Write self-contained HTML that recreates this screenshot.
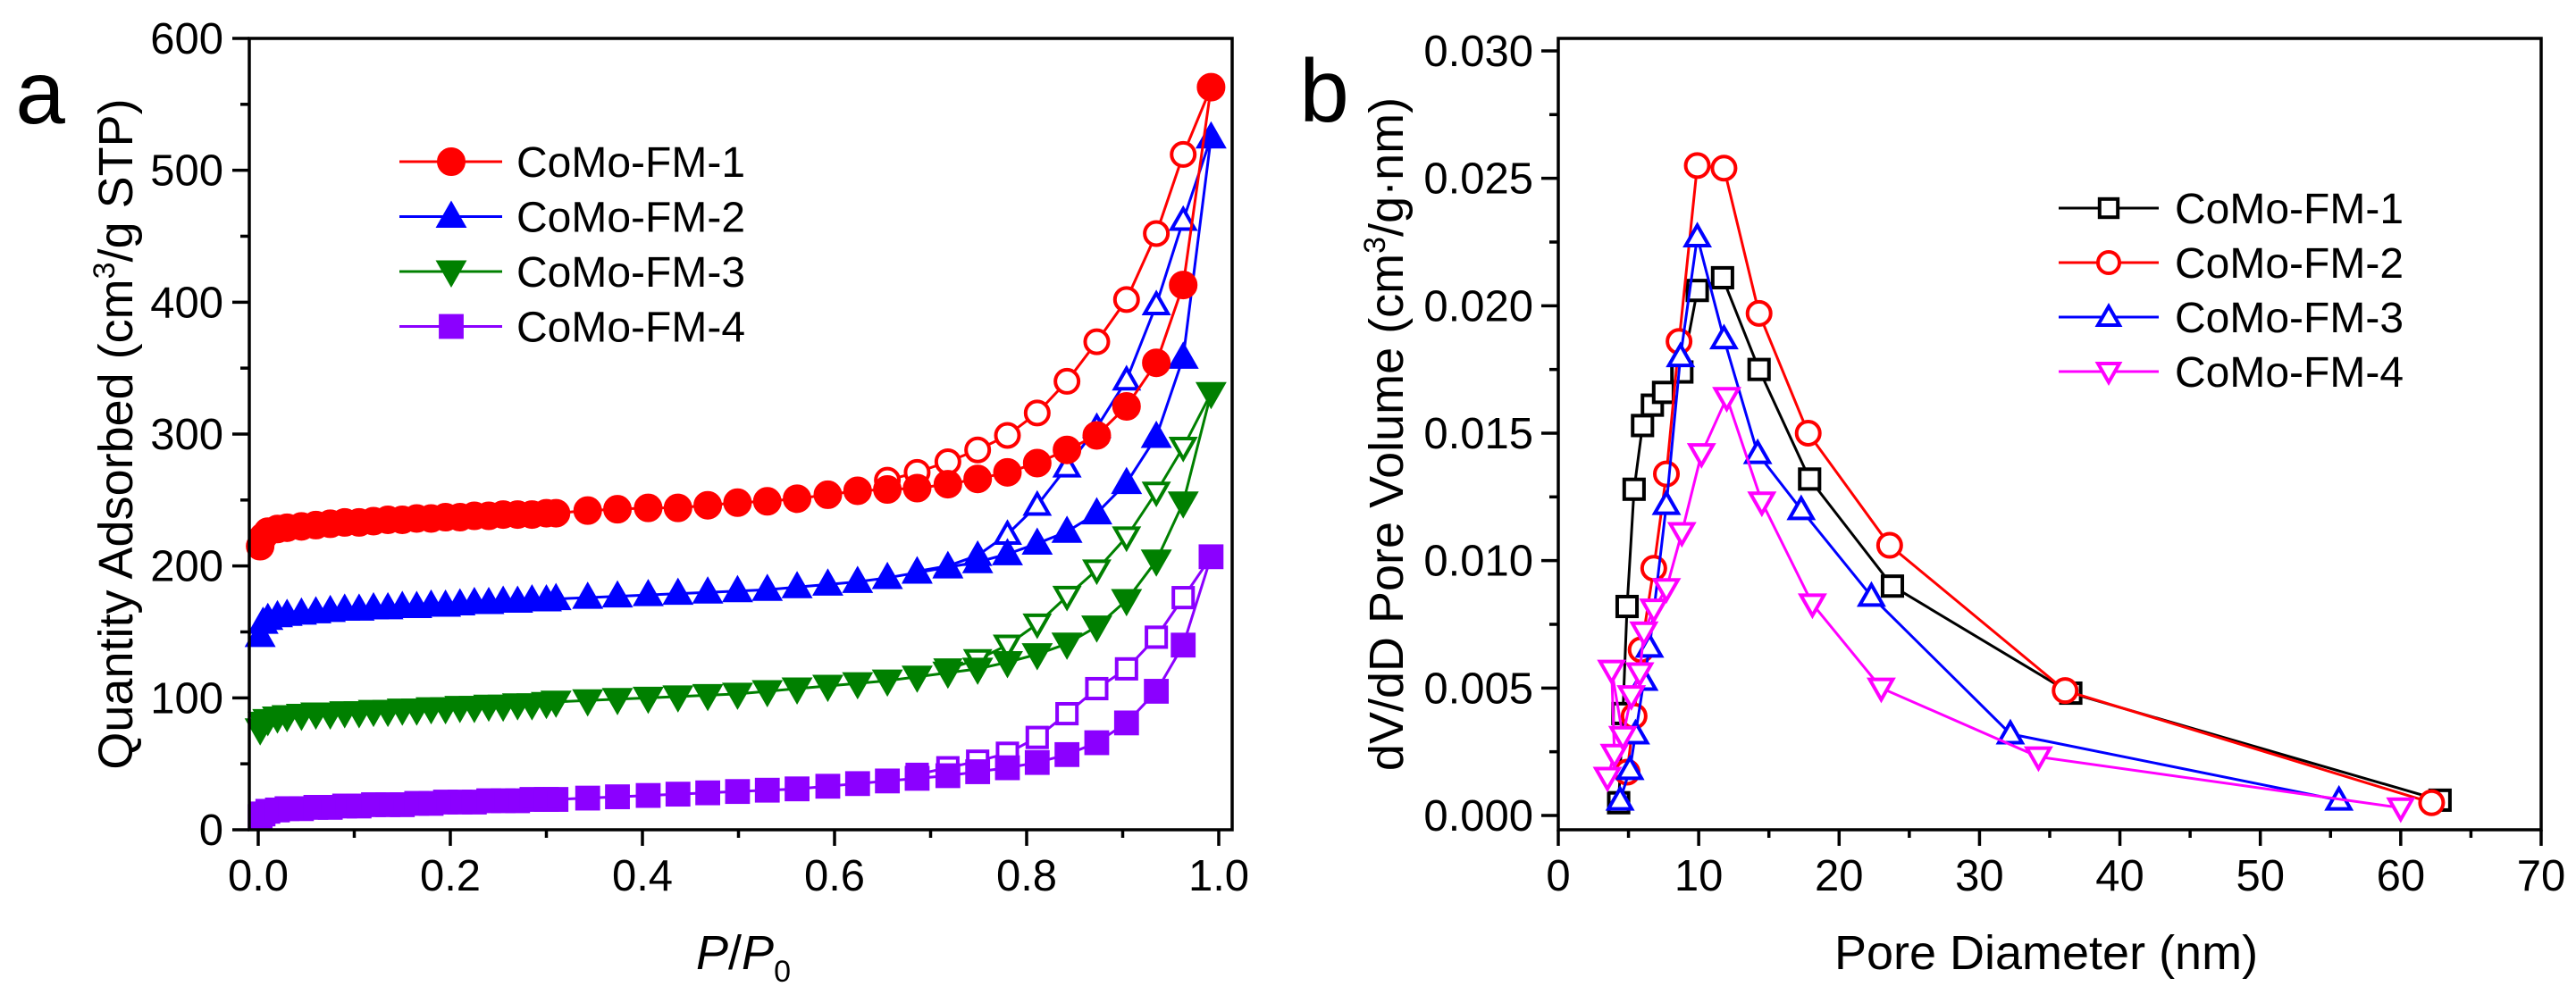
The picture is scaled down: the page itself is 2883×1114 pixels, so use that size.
<!DOCTYPE html>
<html><head><meta charset="utf-8"><style>
html,body{margin:0;padding:0;background:#fff;}
svg{display:block;font-family:"Liberation Sans",Arial,sans-serif;}
</style></head><body>
<svg id="fig" width="2883" height="1114" viewBox="0 0 2883 1114" xmlns="http://www.w3.org/2000/svg">
<g id="pa"></g>
<g id="pb"></g>
</svg>
<script>
// ---------- Panel a data ----------
const lowP = [0.002,0.005,0.01,0.02,0.03,0.045,0.06,0.075,0.09,0.105,0.12,0.135,0.15,0.165,0.18,0.195,0.21,0.225,0.24,0.255,0.27,0.285,0.30,0.31];
const highP = [0.343,0.374,0.406,0.437,0.468,0.499,0.53,0.561,0.593,0.624,0.655,0.686,0.718,0.749,0.78,0.811,0.842,0.873,0.904,0.935,0.963,0.992];
const desP = [0.992,0.963,0.935,0.904,0.873,0.842,0.811,0.78,0.749,0.718,0.686,0.655];
const fm1Ads = [215,222,226,228,229,230,231,232,233,233,234,235,235,236,236,237,237,238,238,239,239,239,240,240,
  242,243,244,244,246,248,249,251,254,257,258,259,262,266,271,278,288,299,321,354,413,563];
const fm1Des = [563,512,452,402,370,340,316,299,288,279,271,265];
const fm2Ads = [147,157,160,162,163,164,165,166,167,167,168,168,169,169,170,170,171,172,172,173,173,174,174,175,
  176,177,178,179,180,181,182,184,186,188,191,195,199,203,209,217,226,240,263,298,358,525];
const fm2Des = [525,462,398,341,305,275,246,224,208,200,196];
const fm3Ads = [76,81,83,85,86,87,88,88,89,89,90,90,91,91,92,92,93,93,94,94,95,95,96,97,
  98,99,100,101,102,103,105,107,109,111,113,116,119,122,127,133,141,154,174,204,248,331];
const fm3Des = [331,290,256,222,197,177,156,140,129,122];
const fm4Ads = [10,12,14,15,16,16,17,17,18,18,19,19,19,20,20,21,21,21,22,22,22,23,23,23,
  24,25,26,27,28,29,30,31,33,35,37,39,41,44,47,51,57,66,81,105,140,207];
const fm4Des = [207,176,146,122,107,88,70,58,52,47,42];
const aXTicks = [0,0.2,0.4,0.6,0.8,1.0];
const aXTickLabels = ["0.0","0.2","0.4","0.6","0.8","1.0"];
const aYTicks = [0,100,200,300,400,500,600];
const aLegend = ["CoMo-FM-1","CoMo-FM-2","CoMo-FM-3","CoMo-FM-4"];

// ---------- Panel b data ----------
const b1x = [4.3,4.6,4.9,5.4,6.0,6.7,7.5,8.8,9.9,11.7,14.3,17.9,23.8,36.5,62.8];
const b1y = [0.0005,0.004,0.0082,0.0128,0.0153,0.0161,0.0166,0.0174,0.0206,0.0211,0.0175,0.0132,0.009,0.0048,0.0006];
const b2x = [4.9,5.4,5.9,6.8,7.7,8.6,9.9,11.8,14.3,17.8,23.6,36.1,62.2];
const b2y = [0.0017,0.0039,0.0065,0.0097,0.0134,0.0186,0.0255,0.0254,0.0197,0.015,0.0106,0.0049,0.0005];
const b3x = [4.4,5.1,5.5,6.1,6.5,7.7,8.7,9.9,11.8,14.2,17.3,22.3,32.2,55.6];
const b3y = [0.0006,0.0018,0.0032,0.0053,0.0066,0.0122,0.018,0.0227,0.0187,0.0142,0.012,0.0086,0.0032,0.0006];
const b4x = [3.5,4.0,3.8,4.6,5.2,5.8,6.1,6.8,7.7,8.8,10.2,12.0,14.5,18.1,23.0,34.2,60.0];
const b4y = [0.0015,0.0024,0.0057,0.0031,0.0047,0.0056,0.0072,0.0081,0.0089,0.0111,0.0142,0.0164,0.0123,0.0083,0.005,0.0023,0.0003];
const bXTicks = [0,10,20,30,40,50,60,70];
const bYTicks = [0,0.005,0.01,0.015,0.02,0.025,0.03];
const bYTickLabels = ["0.000","0.005","0.010","0.015","0.020","0.025","0.030"];
const bLegend = ["CoMo-FM-1","CoMo-FM-2","CoMo-FM-3","CoMo-FM-4"];

const NS = "http://www.w3.org/2000/svg";
function mk(tag, attrs, parent){
  const e = document.createElementNS(NS, tag);
  for (const k in attrs) e.setAttribute(k, attrs[k]);
  parent.appendChild(e);
  return e;
}
// axis functions
const ax = v => 289 + v*1075;
const ay = v => 929 - v*1.4767;
const bx = v => 1744 + v*15.714;
const by = v => 913 - v/0.005*142.67;

function marker(g, shape, cx, cy, color, filled, size){
  const s = size/2; let e;
  const fill = filled ? color : "#fff";
  if (shape === "circle") e = mk("circle",{cx:cx,cy:cy,r:s,fill:fill,stroke:color,"stroke-width":4},g);
  else if (shape === "square") e = mk("rect",{x:cx-s*0.85,y:cy-s*0.85,width:s*1.7,height:s*1.7,fill:fill,stroke:color,"stroke-width":4},g);
  else if (shape === "up") e = mk("polygon",{points:`${cx},${cy-s} ${cx+s},${cy+s*0.75} ${cx-s},${cy+s*0.75}`,fill:fill,stroke:color,"stroke-width":4,"stroke-linejoin":"miter"},g);
  else e = mk("polygon",{points:`${cx},${cy+s} ${cx+s},${cy-s*0.75} ${cx-s},${cy-s*0.75}`,fill:fill,stroke:color,"stroke-width":4,"stroke-linejoin":"miter"},g);
  
  
  return e;
}
function series(parent, xs, ys, fx, fy, color, shape, filled, size, name){
  const g = mk("g",{},parent);
  
  
  const pts = xs.map((x,i)=>fx(x)+","+fy(ys[i])).join(" ");
  const l = mk("polyline",{points:pts,fill:"none",stroke:color,"stroke-width":3},g);
  
  
  xs.forEach((x,i)=>marker(g,shape,fx(x),fy(ys[i]),color,filled,size));
}
function text(parent, x, y, str, size, anchor, name, extra){
  const t = mk("text",Object.assign({x:x,y:y,"font-size":size,"text-anchor":anchor||"start",fill:"#000"},extra||{}),parent);
  t.textContent = str;
  
  
  return t;
}

// ---------- Panel a ----------
const pa = document.getElementById("pa");
const adsX = lowP.concat(highP);
const aCols = ["#ff0000","#0000ff","#008000","#8b00ff"];
const aShapes = ["circle","up","down","square"];
const aAds = [fm1Ads,fm2Ads,fm3Ads,fm4Ads];
const aDes = [fm1Des,fm2Des,fm3Des,fm4Des];
for (let i=3;i>=0;i--){
  series(pa, desP.slice(0,aDes[i].length), aDes[i], ax, ay, aCols[i], aShapes[i], false, 26, "desorption-fm"+(i+1));
  series(pa, adsX, aAds[i], ax, ay, aCols[i], aShapes[i], true, 28, "adsorption-fm"+(i+1));
}
const fa = mk("rect",{x:279,y:43,width:1100,height:886,fill:"none",stroke:"#000","stroke-width":3.5},pa);


aXTicks.forEach((v,i)=>{
  const t = mk("line",{x1:ax(v),y1:929,x2:ax(v),y2:947,stroke:"#000","stroke-width":3.5},pa);
  
  
  if (i<aXTicks.length-1){
    const m = mk("line",{x1:ax(v+0.1),y1:929,x2:ax(v+0.1),y2:938,stroke:"#000","stroke-width":3.5},pa);
    
    
  }
  text(pa, ax(v), 997, aXTickLabels[i], 49, "middle", "x-tick-label-a");
});
aYTicks.forEach((v,i)=>{
  const t = mk("line",{x1:260,y1:ay(v),x2:279,y2:ay(v),stroke:"#000","stroke-width":3.5},pa);
  
  
  if (i<aYTicks.length-1){
    const m = mk("line",{x1:269,y1:ay(v+50),x2:279,y2:ay(v+50),stroke:"#000","stroke-width":3.5},pa);
    
    
  }
  text(pa, 250, ay(v)+17, String(v), 49, "end", "y-tick-label-a");
});
const yta = text(pa, 0, 0, "", 54, "middle", "y-axis-title-a", {transform:"translate(148,486) rotate(-90)"});
yta.innerHTML = 'Quantity Adsorbed (cm<tspan dy="-20" font-size="34">3</tspan><tspan dy="20">/g STP)</tspan>';
const xta = text(pa, 832, 1085, "", 54, "middle", "x-axis-title-a");
xta.innerHTML = '<tspan font-style="italic">P</tspan>/<tspan font-style="italic">P</tspan><tspan dy="14" font-size="34">0</tspan>';
text(pa, 45, 138, "a", 100, "middle", "panel-label-a");
aLegend.forEach((s,i)=>{
  const y = 181 + i*61.5;
  const g = mk("g",{},pa);
  
  
  mk("line",{x1:447,y1:y,x2:562,y2:y,stroke:aCols[i],"stroke-width":3},g);
  marker(g, aShapes[i], 505, y, aCols[i], true, 28);
  text(g, 578, y+17, s, 48, "start", "legend-label-a");
});

// ---------- Panel b ----------
const pb = document.getElementById("pb");
const bCols = ["#000000","#ff0000","#0000ff","#ff00ff"];
const bShapes = ["square","circle","up","down"];
const bXs = [b1x,b2x,b3x,b4x], bYs = [b1y,b2y,b3y,b4y];
for (let i=0;i<4;i++) series(pb, bXs[i], bYs[i], bx, by, bCols[i], bShapes[i], false, 26, "pore-fm"+(i+1));
const fb = mk("rect",{x:1744,y:43,width:1100,height:886,fill:"none",stroke:"#000","stroke-width":3.5},pb);


bXTicks.forEach((v,i)=>{
  const t = mk("line",{x1:bx(v),y1:929,x2:bx(v),y2:947,stroke:"#000","stroke-width":3.5},pb);
  
  
  if (i<bXTicks.length-1){
    const m = mk("line",{x1:bx(v+5),y1:929,x2:bx(v+5),y2:938,stroke:"#000","stroke-width":3.5},pb);
    
    
  }
  text(pb, bx(v), 997, String(v), 49, "middle", "x-tick-label-b");
});
bYTicks.forEach((v,i)=>{
  const t = mk("line",{x1:1725,y1:by(v),x2:1744,y2:by(v),stroke:"#000","stroke-width":3.5},pb);
  
  
  if (i<bYTicks.length-1){
    const m = mk("line",{x1:1734,y1:by(v+0.0025),x2:1744,y2:by(v+0.0025),stroke:"#000","stroke-width":3.5},pb);
    
    
  }
  text(pb, 1716, by(v)+17, bYTickLabels[i], 49, "end", "y-tick-label-b");
});
const ytb = text(pb, 0, 0, "", 54, "middle", "y-axis-title-b", {transform:"translate(1570,486) rotate(-90)"});
ytb.innerHTML = 'dV/dD Pore Volume (cm<tspan dy="-20" font-size="34">3</tspan><tspan dy="20">/g·nm)</tspan>';
text(pb, 2290, 1085, "Pore Diameter (nm)", 54, "middle", "x-axis-title-b");
text(pb, 1482, 136, "b", 100, "middle", "panel-label-b");
bLegend.forEach((s,i)=>{
  const y = 233 + i*61;
  const g = mk("g",{},pb);
  
  
  mk("line",{x1:2304,y1:y,x2:2416,y2:y,stroke:bCols[i],"stroke-width":3},g);
  marker(g, bShapes[i], 2360, y, bCols[i], false, 24);
  text(g, 2434, y+17, s, 48, "start", "legend-label-b");
});
</script>
</body></html>
